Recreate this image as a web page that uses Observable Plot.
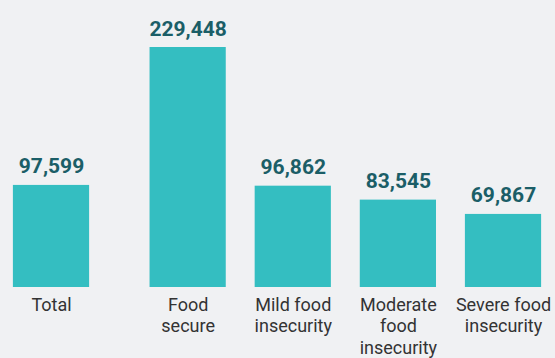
<!DOCTYPE html>
<html>
<head>
<meta charset="utf-8">
<script src="https://cdn.jsdelivr.net/npm/d3@7"></script>
<script src="https://cdn.jsdelivr.net/npm/@observablehq/plot@0.6"></script>
<style>
  html, body { margin: 0; padding: 0; background: #f0f1f3; }
  #chart { width: 555px; height: 358px; }
</style>
</head>
<body>
<div id="chart"></div>
<script>
const categories = ["Total", "Food\nsecure", "Mild food\ninsecurity", "Moderate\nfood\ninsecurity", "Severe food\ninsecurity"];
const values = [97599, 229448, 96862, 83545, 69867];

const data = categories.map((c, i) => ({category: c, value: values[i], index: i}));
// Total stands apart from the breakdown: extra gap after the first slot
const slot = d => d.index === 0 ? 0 : d.index + 0.3;
const half = 0.3625;

const chart = Plot.plot({
  width: 555,
  height: 358,
  style: {background: "#f0f1f3", fontFamily: "Roboto, sans-serif", overflow: "visible"},
  x: {type: "linear", domain: [0, 4.3], range: [51, 503], axis: null},
  y: {domain: [0, 229448], range: [287, 47], axis: null},
  marks: [
    Plot.rectY(data, {x1: d => slot(d) - half, x2: d => slot(d) + half, y1: 0, y2: "value", fill: "#34bec1"}),
    Plot.text(data, {x: slot, y: "value", text: d => d3.format(",")(d.value), dy: -12, lineAnchor: "bottom",
      fontSize: 21, fontWeight: "bold", fill: "#1b5e67"}),
    Plot.text(data, {x: slot, y: 0, text: "category", lineAnchor: "top", dy: 8, lineHeight: 1.2,
      fontSize: 18, fill: "#333333"})
  ]
});
document.getElementById("chart").appendChild(chart);
</script>
</body>
</html>
